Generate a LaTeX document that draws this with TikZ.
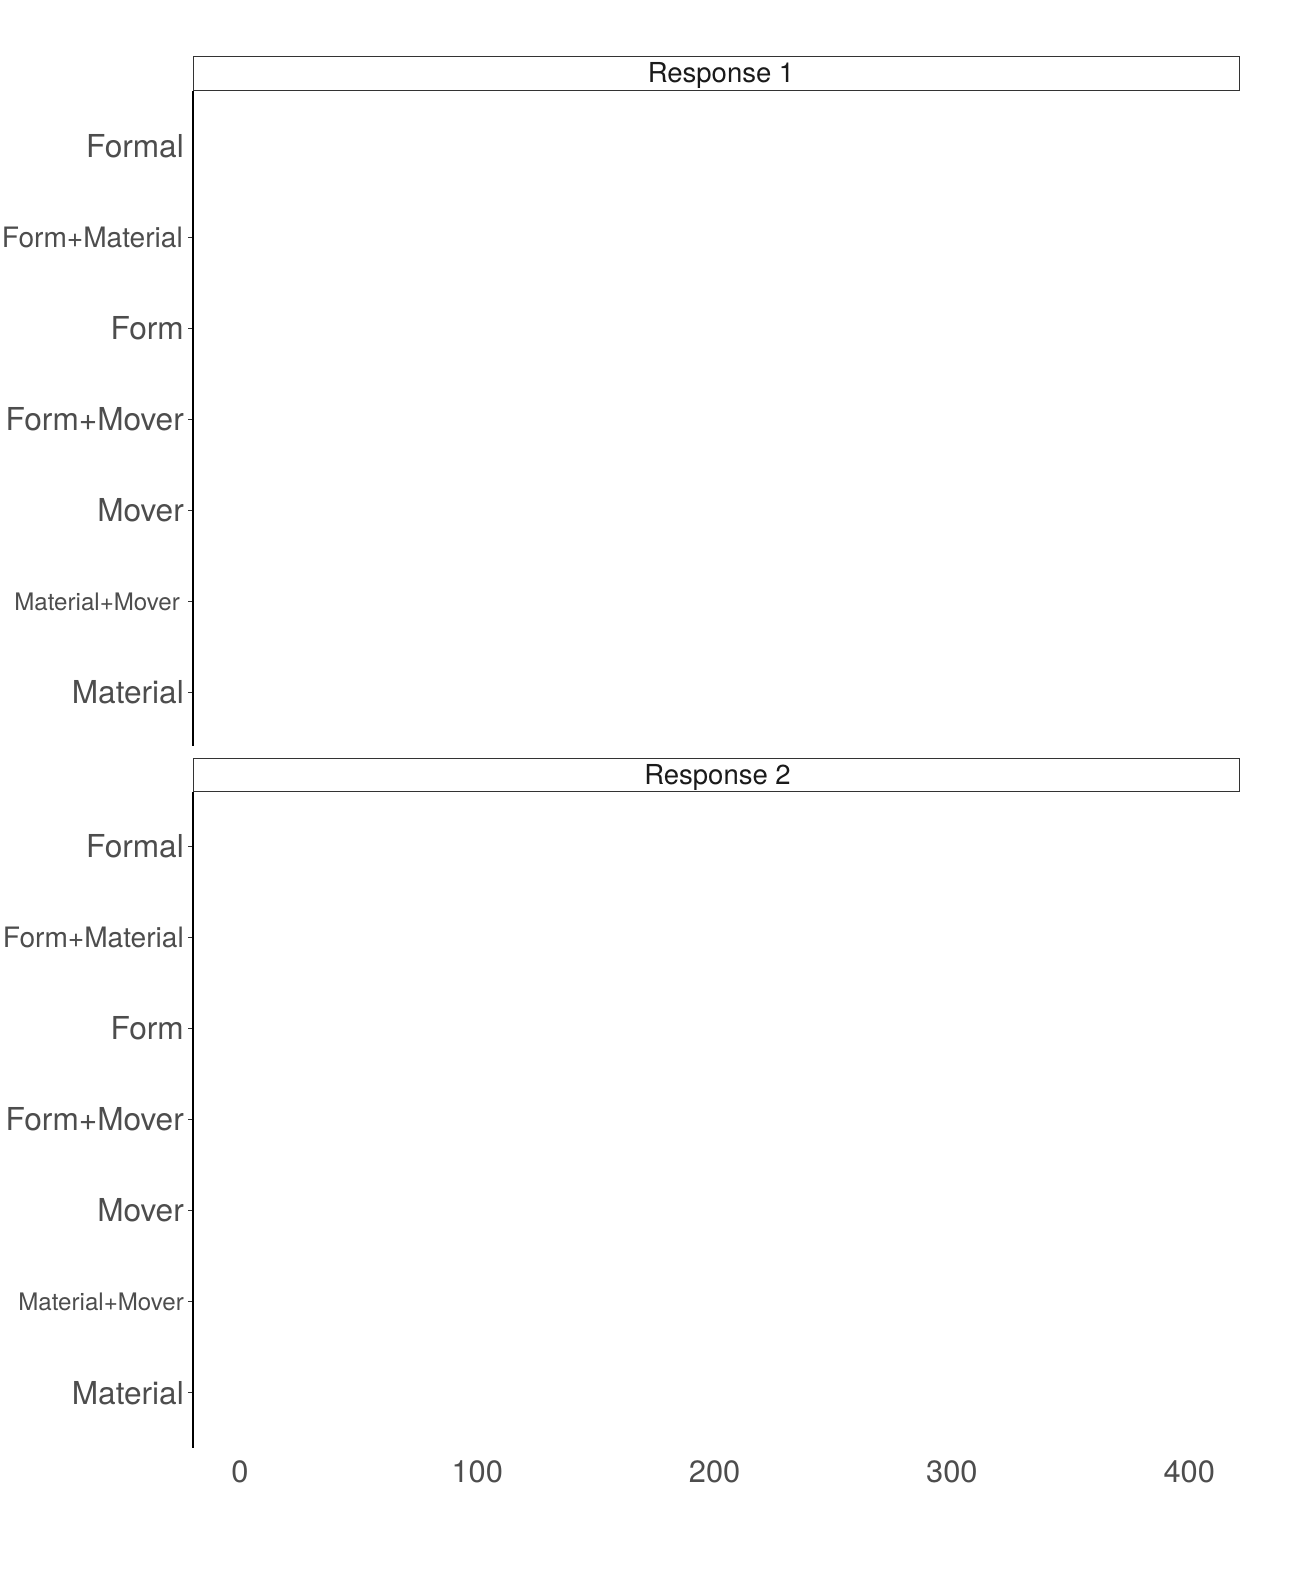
\documentclass[tikz,border=0pt]{standalone}
\usepackage{fontspec}
\setmainfont{TeX Gyre Heros}
\definecolor{labgrey}{HTML}{4D4D4D}
\definecolor{stripgrey}{HTML}{333333}
\definecolor{striptext}{HTML}{1A1A1A}
\tikzset{
  biglab/.style={anchor=base east, inner sep=0pt, text=labgrey, font=\fontsize{31.6}{31.6}\selectfont},
  midlab/.style={anchor=base east, inner sep=0pt, text=labgrey, font=\fontsize{28.1}{28.1}\selectfont},
  smalllab/.style={anchor=base east, inner sep=0pt, text=labgrey, font=\fontsize{24.1}{24.1}\selectfont},
  numlab/.style={anchor=base, inner sep=0pt, text=labgrey, font=\fontsize{30.8}{30.8}\selectfont},
  striplab/.style={anchor=base, inner sep=0pt, text=striptext, font=\fontsize{27.5}{27.5}\selectfont},
  stripbox/.style={draw=stripgrey, line width=1pt, fill=white},
  axisline/.style={draw=black, line width=2pt},
  tickline/.style={draw=stripgrey, line width=1.1pt},
}
\begin{document}
\begin{tikzpicture}[x=1pt,y=-1pt]
\useasboundingbox (0,0) rectangle (1296,1584);
% ---- Panel 1 ----
\draw[stripbox] (193,57) rectangle (1239,91);
\node[striplab] (s1) at (721,82.3) {Response 1};
\coordinate (a1t) at (192.5,91);
\coordinate (a1b) at (192.5,746);
\draw[axisline] (a1t) -- (a1b);
\node[biglab]   (p1l1) at (184,157.8) {Formal};
\node[midlab]   (p1l2) at (183,247.6) {Form+Material};
\node[biglab]   (p1l3) at (184,339.8) {Form};
\node[biglab]   (p1l4) at (184,430.8) {Form+Mover};
\node[biglab]   (p1l5) at (184,521.8) {Mover};
\node[smalllab] (p1l6) at (180,610.1) {Material+Mover};
\node[biglab]   (p1l7) at (184,703.8) {Material};
\foreach \y in {237.5,328.5,419.5,510.5,601.5,692.5}{
  \draw[tickline] (188,\y) -- (192,\y);
}
% ---- Panel 2 ----
\draw[stripbox] (193,758.3) rectangle (1239,791.5);
\node[striplab] (s2) at (717.5,784) {Response 2};
\coordinate (a2t) at (192.5,791.5);
\coordinate (a2b) at (192.5,1448);
\draw[axisline] (a2t) -- (a2b);
\node[biglab]   (p2l1) at (184,857.8) {Formal};
\node[midlab]   (p2l2) at (184,947.6) {Form+Material};
\node[biglab]   (p2l3) at (184,1039.8) {Form};
\node[biglab]   (p2l4) at (184,1130.8) {Form+Mover};
\node[biglab]   (p2l5) at (184,1221.8) {Mover};
\node[smalllab] (p2l6) at (184,1310.1) {Material+Mover};
\node[biglab]   (p2l7) at (184,1404.8) {Material};
\foreach \y in {846.5,937.5,1028.5,1119.5,1210.5,1301.5,1392.5}{
  \draw[tickline] (188,\y) -- (192,\y);
}
% ---- x axis labels ----
\node[numlab] (x0) at (240,1482.5) {0};
\node[numlab] (x1) at (477.3,1482.5) {100};
\node[numlab] (x2) at (714.6,1482.5) {200};
\node[numlab] (x3) at (951.9,1482.5) {300};
\node[numlab] (x4) at (1189.2,1482.5) {400};
\end{tikzpicture}
\end{document}
